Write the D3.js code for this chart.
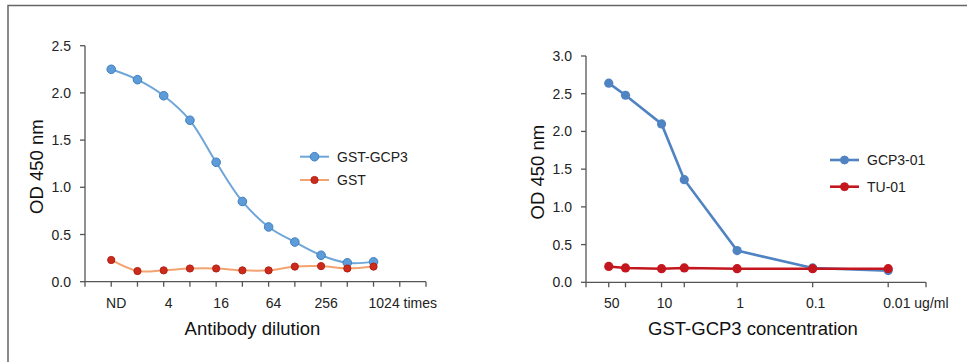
<!DOCTYPE html>
<html>
<head>
<meta charset="utf-8">
<script src="https://cdn.jsdelivr.net/npm/d3@7"></script>
<style>
  body { margin: 0; background: #fff; }
  svg { display: block; font-family: "Liberation Sans", Arial, sans-serif; }
</style>
</head>
<body>
<svg width="967" height="362"></svg>
<script>
// left panel: antibody dilution (category positions 0..10)
var dilutionIdx = [0, 1, 2, 3, 4, 5, 6, 7, 8, 9, 10]
var dilutionLabels = ['ND', '', '4', '', '16', '', '64', '', '256', '', '1024 times']
var gstGcp3 = [2.25, 2.14, 1.97, 1.71, 1.265, 0.85, 0.58, 0.42, 0.28, 0.20, 0.21]
var gst = [0.23, 0.113, 0.12, 0.14, 0.14, 0.12, 0.12, 0.16, 0.165, 0.14, 0.16]

// right panel: GST-GCP3 concentration (ug/ml, log axis)
var conc = [50, 30, 10, 5, 1, 0.1, 0.01]
var concLabels = {50: '50', 10: '10', 1: '1', 0.1: '0.1', 0.01: '0.01 ug/ml'}
var gcp301 = [2.64, 2.48, 2.10, 1.36, 0.42, 0.19, 0.155]
var tu01 = [0.21, 0.19, 0.18, 0.19, 0.18, 0.18, 0.18]

var yTicksLeft = [0, 0.5, 1.0, 1.5, 2.0, 2.5]
var yTicksRight = [0, 0.5, 1.0, 1.5, 2.0, 2.5, 3.0]

var svg = d3.select('svg')
var axisColor = '#555'

// frame
svg.append('path')
	.attr('d', 'M8,362V5.5H967')
	.attr('fill', 'none')
	.attr('stroke', '#666')
	.attr('stroke-width', 1.5)

function drawAxes(x, y, xTicks, xLabelFn, yTicks, xTitle, yTitleX, labelDx) {
	var g = svg.append('g')
	var x0 = x.range()[0], x1 = x.range()[1]
	var y0 = y.range()[0], y1 = y.range()[1]

	// axis lines
	g.append('line').attr('x1', x0).attr('x2', x0).attr('y1', y1).attr('y2', y0)
		.attr('stroke', axisColor).attr('stroke-width', 1.3)
	g.append('line').attr('x1', x0).attr('x2', x1).attr('y1', y0).attr('y2', y0)
		.attr('stroke', axisColor).attr('stroke-width', 1.3)

	// y ticks
	yTicks.forEach(function(v) {
		g.append('line').attr('x1', x0 - 5).attr('x2', x0).attr('y1', y(v)).attr('y2', y(v))
			.attr('stroke', axisColor).attr('stroke-width', 1.3)
		g.append('text').attr('x', x0 - 14).attr('y', y(v) + 5)
			.attr('text-anchor', 'end').attr('font-size', 14).attr('fill', '#222')
			.text(d3.format('.1f')(v))
	})

	// x ticks
	xTicks.forEach(function(v) {
		g.append('line').attr('x1', x(v)).attr('x2', x(v)).attr('y1', y0).attr('y2', y0 + 5)
			.attr('stroke', axisColor).attr('stroke-width', 1.3)
	})
	xTicks.forEach(function(v, i) {
		var lab = xLabelFn(v, i)
		if (!lab) return
		var t = g.append('text').attr('y', y0 + 26).attr('font-size', 14).attr('fill', '#222').text(lab)
		if (lab.indexOf(' ') > 0) {
			t.attr('x', x(v) - 5).attr('text-anchor', 'start')
		} else {
			t.attr('x', x(v) + labelDx).attr('text-anchor', 'middle')
		}
	})

	// titles
	g.append('text').attr('x', (x0 + x1) / 2 - 3).attr('y', y0 + 53)
		.attr('text-anchor', 'middle').attr('font-size', 18.5).attr('fill', '#111')
		.text(xTitle)
	g.append('text')
		.attr('transform', 'translate(' + yTitleX + ',' + ((y0 + y1) / 2 + 3) + ') rotate(-90)')
		.attr('text-anchor', 'middle').attr('font-size', 18.5).attr('fill', '#111')
		.text('OD 450 nm')
}

function legendItem(x, yPos, color, mColor, mStroke, r, lw, label) {
	svg.append('line').attr('x1', x).attr('x2', x + 29).attr('y1', yPos).attr('y2', yPos)
		.attr('stroke', color).attr('stroke-width', lw)
	svg.append('circle').attr('cx', x + 14.5).attr('cy', yPos).attr('r', r)
		.attr('fill', mColor).attr('stroke', mStroke).attr('stroke-width', 1)
	svg.append('text').attr('x', x + 37).attr('y', yPos + 5)
		.attr('font-size', 14).attr('fill', '#222').text(label)
}

// ---- left chart ----
var xL = d3.scaleLinear().domain([-1, 12]).range([85, 426])
var yL = d3.scaleLinear().domain([0, 2.5]).range([281.7, 45.7])
var ticksL = d3.range(-1, 13)

drawAxes(xL, yL, ticksL, function(v) { return v >= 0 && v < dilutionLabels.length ? dilutionLabels[v] : '' },
	yTicksLeft, 'Antibody dilution', 43, 5)

var lineL = d3.line().curve(d3.curveCatmullRom.alpha(0.5))
	.x(function(d) { return xL(d[0]) })
	.y(function(d) { return yL(d[1]) })

var leftSeries = [
	{vals: gstGcp3, line: '#6ea6da', fill: '#5d9cd8', stroke: '#3f7fbf', r: 4.3, lw: 2},
	{vals: gst, line: '#f2a370', fill: '#cc2a1c', stroke: '#b22014', r: 3.6, lw: 2}
]
leftSeries.forEach(function(s) {
	var pts = dilutionIdx.map(function(d, i) { return [d, s.vals[i]] })
	svg.append('path').datum(pts).attr('d', lineL)
		.attr('fill', 'none').attr('stroke', s.line).attr('stroke-width', s.lw)
	svg.append('g').selectAll('circle').data(pts).enter().append('circle')
		.attr('cx', function(d) { return xL(d[0]) })
		.attr('cy', function(d) { return yL(d[1]) })
		.attr('r', s.r).attr('fill', s.fill).attr('stroke', s.stroke).attr('stroke-width', 1)
})
legendItem(300, 156.7, '#6ea6da', '#5d9cd8', '#3f7fbf', 4.3, 2, 'GST-GCP3')
legendItem(300, 180, '#f2a370', '#cc2a1c', '#b22014', 3.6, 2, 'GST')

// ---- right chart ----
var xR = d3.scaleLog().domain([100, 0.00316]).range([586, 926])
var yR = d3.scaleLinear().domain([0, 3]).range([282.3, 56])
var ticksR = [100].concat(conc).concat([0.00316])

drawAxes(xR, yR, ticksR, function(v) { return concLabels[v] || '' },
	yTicksRight, 'GST-GCP3 concentration', 544, 3)

var lineR = d3.line()
	.x(function(d) { return xR(d[0]) })
	.y(function(d) { return yR(d[1]) })

var rightSeries = [
	{vals: gcp301, color: '#4f83c2'},
	{vals: tu01, color: '#c4161e'}
]
rightSeries.forEach(function(s) {
	var pts = conc.map(function(c, i) { return [c, s.vals[i]] })
	svg.append('path').datum(pts).attr('d', lineR)
		.attr('fill', 'none').attr('stroke', s.color).attr('stroke-width', 2.6)
	svg.append('g').selectAll('circle').data(pts).enter().append('circle')
		.attr('cx', function(d) { return xR(d[0]) })
		.attr('cy', function(d) { return yR(d[1]) })
		.attr('r', 4.6).attr('fill', s.color)
})
legendItem(830, 160, '#4f83c2', '#4f83c2', '#4f83c2', 4, 2.6, 'GCP3-01')
legendItem(830, 186.7, '#c4161e', '#c4161e', '#c4161e', 4, 2.6, 'TU-01')
</script>
</body>
</html>
